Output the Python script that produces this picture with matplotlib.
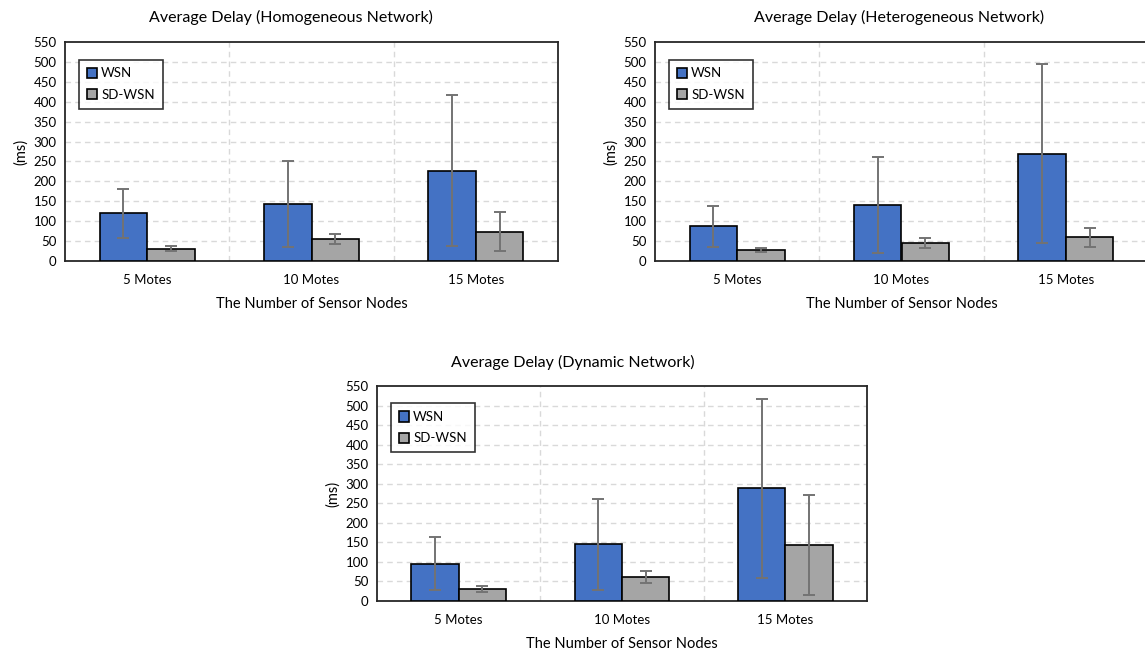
import matplotlib
matplotlib.use("Agg")
import matplotlib.pyplot as plt
import numpy as np

plt.rcParams['font.family'] = ['Lato', 'DejaVu Sans']

categories = ["5 Motes", "10 Motes", "15 Motes"]
series_names = ["WSN", "SD-WSN"]
titles = ["Average Delay (Homogeneous Network)",
          "Average Delay (Heterogeneous Network)",
          "Average Delay (Dynamic Network)"]
yticks = list(range(0, 551, 50))

# mean delay (ms) and symmetric error bar half-width
homo_wsn = [120, 143, 227]
homo_wsn_err = [62, 109, 190]
homo_sd = [31, 56, 73]
homo_sd_err = [6, 13, 49]

hetero_wsn = [87, 141, 269]
hetero_wsn_err = [52, 121, 225]
hetero_sd = [28, 45, 60]
hetero_sd_err = [5, 13, 24]

dyn_wsn = [95, 145, 289]
dyn_wsn_err = [68, 116, 229]
dyn_sd = [31, 61, 143]
dyn_sd_err = [8, 16, 127]

W, H = 1145, 653
fig = plt.figure(figsize=(W / 100, H / 100), dpi=100)


def px_axes(left, top, right, bottom):
    return fig.add_axes([left / W, 1 - bottom / H, (right - left) / W, (bottom - top) / H])


def draw(ax, title, title_x, wsn, wsn_err, sd, sd_err):
    x = np.arange(len(categories))
    bw = 0.29
    ekw = dict(ecolor='#737373', elinewidth=1.4, capsize=4, capthick=1.4)
    ax.bar(x - bw / 2, wsn, bw, yerr=wsn_err, color='#4472C4', edgecolor='black',
           linewidth=1.2, label=series_names[0], error_kw=ekw, zorder=3)
    ax.bar(x + bw / 2, sd, bw, yerr=sd_err, color='#A5A5A5', edgecolor='black',
           linewidth=1.2, label=series_names[1], error_kw=ekw, zorder=3)
    ax.set_xlim(-0.5, 2.5)
    ax.set_ylim(0, 550)
    ax.set_yticks(yticks)
    ax.set_xticks(x)
    ax.set_xticklabels(categories)
    ax.tick_params(length=0, labelsize=9.5, colors='black', pad=6)
    ax.tick_params(axis='x', pad=9)
    for v in yticks[1:-1]:
        ax.axhline(v, color='#d9d9d9', lw=1, ls=(0, (4, 3)), zorder=1)
    for v in [0.5, 1.5]:
        ax.axvline(v, color='#d9d9d9', lw=1, ls=(0, (4, 3)), zorder=1)
    for s in ax.spines.values():
        s.set_color('#262626')
        s.set_linewidth(1.3)
    ax.set_ylabel("(ms)", fontsize=10.5, labelpad=4)
    ax.set_xlabel("The Number of Sensor Nodes", fontsize=10.5, labelpad=8)
    ax.text(title_x, 1.11, title, transform=ax.transAxes, ha='center', va='center',
            fontsize=11.5)
    leg = ax.legend(loc='upper left', bbox_to_anchor=(0.028, 0.92), frameon=True,
                    fancybox=False, edgecolor='black', fontsize=9.5, handlelength=0.8,
                    handleheight=0.8, handletextpad=0.3, borderpad=0.6,
                    labelspacing=0.7, borderaxespad=0)
    leg.get_frame().set_linewidth(1.2)
    leg.set_zorder(5)


ax1 = px_axes(65, 42, 558, 261)
draw(ax1, titles[0], 0.458, homo_wsn, homo_wsn_err, homo_sd, homo_sd_err)
ax2 = px_axes(655, 42, 1148, 261)
draw(ax2, titles[1], 0.495, hetero_wsn, hetero_wsn_err, hetero_sd, hetero_sd_err)
ax3 = px_axes(377, 386, 867, 601)
draw(ax3, titles[2], 0.40, dyn_wsn, dyn_wsn_err, dyn_sd, dyn_sd_err)

fig.savefig("out.png", dpi=100)
